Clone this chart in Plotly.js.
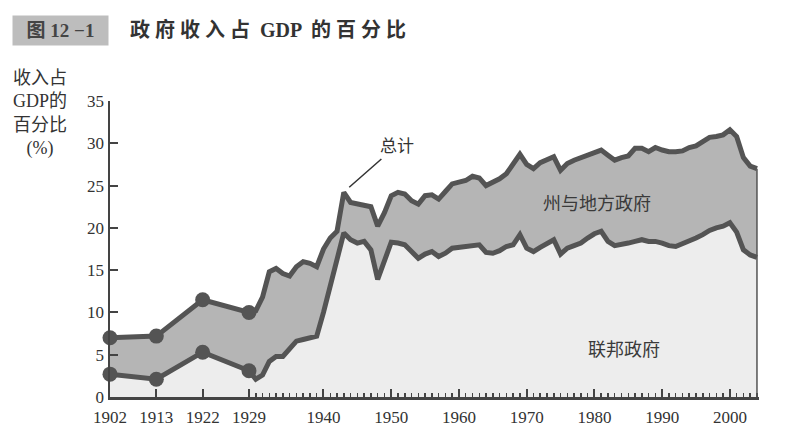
<!DOCTYPE html>
<html>
<head>
<meta charset="utf-8">
<script src="https://cdn.plot.ly/plotly-3.0.1.min.js"></script>
<style>
  html, body { margin: 0; padding: 0; background: #fff; }
  #chart { width: 806px; height: 448px; }
</style>
</head>
<body>
<div id="chart"></div>
<script>
// early survey years are drawn evenly spaced, yearly data from 1929 on
const earlyYears = [1902, 1913, 1922];
const lateYears = [];
for (let y = 1929; y <= 2004; y++) lateYears.push(y);
const years = earlyYears.concat(lateYears);

// total government receipts, % of GDP
const totalPct = [
  7.0, 7.2, 11.5,
  10.0, 10.2, 11.8, 14.8, 15.2, 14.6, 14.3, 15.4, 16.0, 15.8, 15.4,
  17.5, 18.8, 19.6, 24.2, 23.0, 22.8, 22.6, 22.5, 20.2, 21.8,
  23.8, 24.2, 24.0, 23.2, 22.8, 23.8, 23.9, 23.4, 24.3, 25.2,
  25.4, 25.6, 26.1, 25.9, 25.0, 25.4, 25.8, 26.4, 27.5, 28.7,
  27.5, 27.0, 27.7, 28.0, 28.4, 26.8, 27.6, 28.0, 28.3, 28.6,
  29.0, 29.2, 28.6, 28.0, 28.3, 28.5, 29.4, 29.4, 29.0, 29.5,
  29.2, 29.0, 29.0, 29.1, 29.5, 29.7, 30.2, 30.7, 30.8, 31.0,
  31.6, 30.8, 28.3, 27.3, 27.0
];

// federal government receipts, % of GDP
const federalPct = [
  2.7, 2.1, 5.3,
  3.1, 2.1, 2.6, 4.2, 4.8, 4.8, 5.8, 6.6, 6.8, 7.0, 7.2,
  10.0, 13.0, 16.5, 19.4, 18.6, 18.2, 18.4, 17.4, 13.9, 16.2,
  18.3, 18.2, 18.0, 17.2, 16.4, 16.9, 17.2, 16.6, 17.0, 17.6,
  17.7, 17.7, 17.9, 18.0, 17.1, 17.0, 17.3, 17.8, 18.0, 19.2,
  17.6, 17.2, 17.7, 18.2, 18.6, 16.9, 17.6, 17.9, 18.2, 18.8,
  19.3, 19.6, 18.4, 17.9, 18.0, 18.2, 18.4, 18.6, 18.4, 18.4,
  18.2, 17.9, 17.8, 18.1, 18.4, 18.8, 19.2, 19.7, 20.0, 20.2,
  20.6, 19.5, 17.4, 16.8, 16.5
];

const markedYears = [1902, 1913, 1922, 1929];
const labelYears = [1902, 1913, 1922, 1929, 1940, 1950, 1960, 1970, 1980, 1990, 2000];

const BREAK = 1929;
const EARLY_STEP = 6.84;
function pos(y) {
  if (y >= BREAK) return y;
  const i = earlyYears.indexOf(y);
  return BREAK - (earlyYears.length - i) * EARLY_STEP;
}

const xs = years.map(pos);
const markIdx = markedYears.map(y => years.indexOf(y));
const xRange = [pos(1902), 2004.3];

const lineColor = '#545454';
const serif = '"Liberation Serif", "Noto Sans CJK SC", serif';
const cjk = '"Noto Sans CJK SC", sans-serif';

const data = [
  {
    x: xs, y: federalPct, type: 'scatter', mode: 'lines',
    fill: 'tozeroy', fillcolor: '#ededed',
    line: { color: lineColor, width: 5 },
    hoverinfo: 'skip'
  },
  {
    x: xs, y: totalPct, type: 'scatter', mode: 'lines',
    fill: 'tonexty', fillcolor: '#b5b5b5',
    line: { color: lineColor, width: 5 },
    hoverinfo: 'skip'
  },
  {
    x: markIdx.map(i => xs[i]).concat(markIdx.map(i => xs[i])),
    y: markIdx.map(i => totalPct[i]).concat(markIdx.map(i => federalPct[i])),
    type: 'scatter', mode: 'markers', cliponaxis: false,
    marker: { color: lineColor, size: 15 },
    hoverinfo: 'skip'
  },
  {
    // carries the yearly minor tick axis
    x: [lateYears[0]], y: [0], xaxis: 'x2', type: 'scatter', mode: 'markers',
    marker: { opacity: 0 }, hoverinfo: 'skip'
  }
];

const layout = {
  width: 806, height: 448,
  margin: { l: 110, r: 47, t: 101, b: 51 },
  paper_bgcolor: '#fff', plot_bgcolor: '#fff',
  showlegend: false,
  title: {
    text: '<b>政 府 收 入 占  GDP  的 百 分 比</b>',
    font: { family: serif, size: 20, color: '#333' },
    x: 130 / 806, xanchor: 'left', xref: 'container',
    y: 1 - 30 / 448, yanchor: 'middle', yref: 'container'
  },
  xaxis: {
    range: xRange,
    tickvals: labelYears.map(pos), ticktext: labelYears.map(String),
    ticks: 'inside', ticklen: 8, tickwidth: 2, tickcolor: '#444',
    ticklabelstandoff: 3,
    showline: true, linewidth: 2.5, linecolor: '#444',
    showgrid: false, zeroline: false,
    tickfont: { family: serif, size: 17, color: '#333' }
  },
  xaxis2: {
    overlaying: 'x', anchor: 'y', side: 'bottom',
    range: xRange,
    tickvals: lateYears,
    ticks: 'inside', ticklen: 4.5, tickwidth: 1.5, tickcolor: '#444',
    showticklabels: false, showline: false, showgrid: false, zeroline: false
  },
  yaxis: {
    range: [0, 35],
    tickvals: [0, 5, 10, 15, 20, 25, 30, 35],
    ticks: 'inside', ticklen: 8, tickwidth: 2, tickcolor: '#444',
    showline: true, linewidth: 2.5, linecolor: '#444',
    showgrid: false, zeroline: false,
    tickfont: { family: serif, size: 17, color: '#333' }
  },
  shapes: [
    {
      type: 'line', xref: 'x', yref: 'y',
      x0: years[years.length - 1], x1: years[years.length - 1],
      y0: 0, y1: totalPct[totalPct.length - 1],
      line: { color: lineColor, width: 1.5 }
    }
  ],
  annotations: [
    {
      text: '<b>图 12 −1</b>', xref: 'paper', yref: 'paper',
      x: (12 - 110) / 648, y: (397 - 15) / 296, xanchor: 'left', yanchor: 'top',
      width: 93, height: 27, bgcolor: '#bdbdbd', showarrow: false,
      font: { family: serif, size: 19, color: '#444' }
    },
    {
      text: '收入占<br>GDP的<br>百分比<br>(%)', xref: 'paper', yref: 'paper',
      x: (40 - 110) / 648, y: (397 - 66) / 296, xanchor: 'center', yanchor: 'top',
      showarrow: false, align: 'center',
      font: { family: serif, size: 18, color: '#333' }
    },
    {
      text: '总计', x: 1943.8, y: 24.8, ax: 1950.9, ay: 29.8,
      axref: 'x', ayref: 'y', showarrow: true, arrowhead: 0,
      arrowwidth: 1.5, arrowcolor: '#333',
      font: { family: cjk, size: 17, color: '#333' }
    },
    {
      text: '州与地方政府', x: 1980.4, y: 23.0, showarrow: false,
      font: { family: cjk, size: 18, color: '#3a3a3a' }
    },
    {
      text: '联邦政府', x: 1984.4, y: 5.8, showarrow: false,
      font: { family: cjk, size: 18, color: '#3a3a3a' }
    }
  ]
};

Plotly.newPlot('chart', data, layout, { staticPlot: true });
</script>
</body>
</html>
